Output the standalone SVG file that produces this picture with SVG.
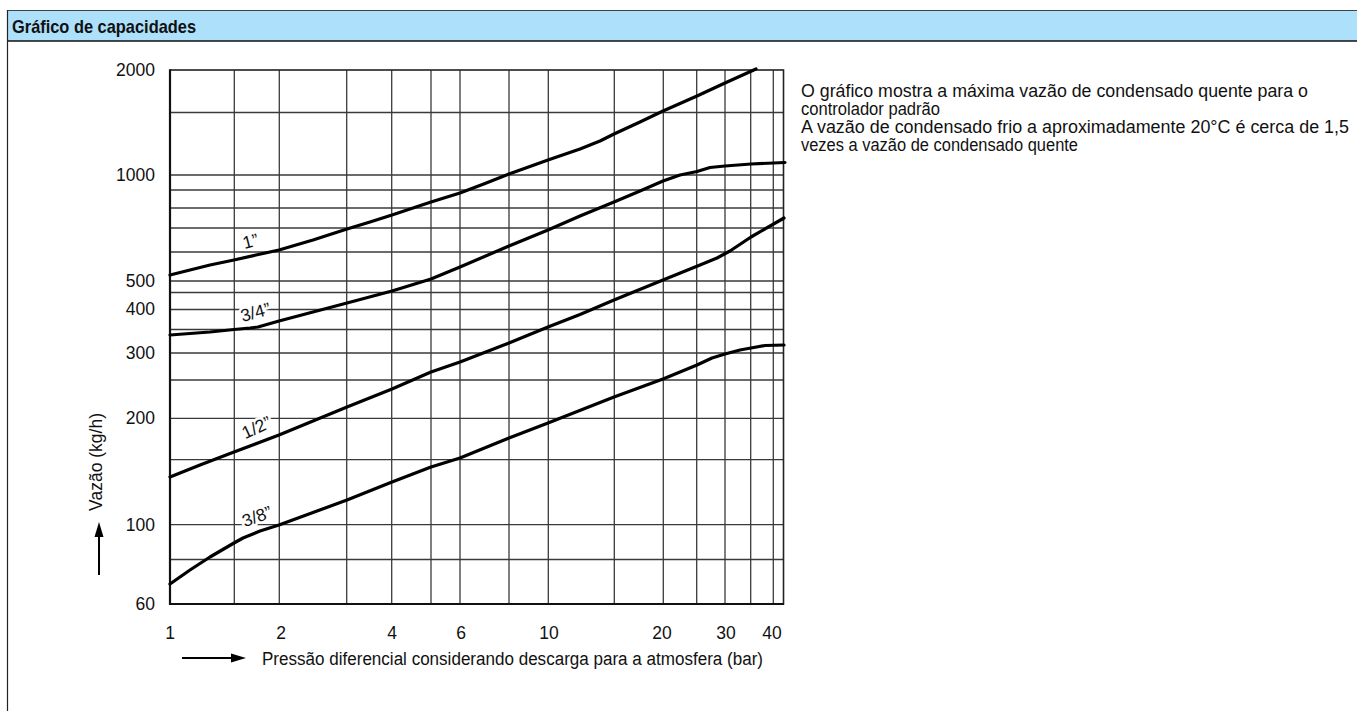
<svg xmlns="http://www.w3.org/2000/svg" width="1357" height="711" viewBox="0 0 1357 711">
<style>
  text { font-family: "Liberation Sans", Arial, sans-serif; fill: #111; }
  .tick { font-size: 17.5px; }
  .grid line { stroke: #3a3a3a; stroke-width: 1.3; }
  .curve { fill: none; stroke: #000; stroke-width: 3.2; stroke-linejoin: round; stroke-linecap: round; }
  .size { font-size: 17.5px; paint-order: stroke; stroke: #fff; stroke-width: 5px; stroke-linejoin: round; }
  .note { font-size: 17.5px; }
</style>
<rect x="0" y="0" width="1357" height="711" fill="#fff"/>
<g id="frame">
  <rect x="7" y="10.5" width="1352" height="30.5" fill="#ade0fb"/>
  <line x1="7" y1="10.5" x2="1357" y2="10.5" stroke="#444" stroke-width="1.2"/>
  <line x1="7" y1="41" x2="1357" y2="41" stroke="#111" stroke-width="1.3"/>
  <line x1="7.5" y1="10" x2="7.5" y2="711" stroke="#222" stroke-width="1.2"/>
  <text x="12" y="33" font-size="18.5" font-weight="bold" textLength="184" lengthAdjust="spacingAndGlyphs">Gráfico de capacidades</text>
</g>
<g id="grid" class="grid">
  <line x1="234.3" y1="70" x2="234.3" y2="604"/>
  <line x1="279.3" y1="70" x2="279.3" y2="604"/>
  <line x1="346.7" y1="70" x2="346.7" y2="604"/>
  <line x1="391.7" y1="70" x2="391.7" y2="604"/>
  <line x1="431" y1="70" x2="431" y2="604"/>
  <line x1="460" y1="70" x2="460" y2="604"/>
  <line x1="509" y1="70" x2="509" y2="604"/>
  <line x1="548.3" y1="70" x2="548.3" y2="604"/>
  <line x1="614.3" y1="70" x2="614.3" y2="604"/>
  <line x1="663.3" y1="70" x2="663.3" y2="604"/>
  <line x1="696.7" y1="70" x2="696.7" y2="604"/>
  <line x1="725" y1="70" x2="725" y2="604"/>
  <line x1="750.7" y1="70" x2="750.7" y2="604"/>
  <line x1="773.3" y1="70" x2="773.3" y2="604"/>
  <line x1="170" y1="112.5" x2="783.5" y2="112.5"/>
  <line x1="170" y1="175" x2="783.5" y2="175"/>
  <line x1="170" y1="190" x2="783.5" y2="190"/>
  <line x1="170" y1="208" x2="783.5" y2="208"/>
  <line x1="170" y1="228" x2="783.5" y2="228"/>
  <line x1="170" y1="252" x2="783.5" y2="252"/>
  <line x1="170" y1="281" x2="783.5" y2="281"/>
  <line x1="170" y1="292.5" x2="783.5" y2="292.5"/>
  <line x1="170" y1="309.5" x2="783.5" y2="309.5"/>
  <line x1="170" y1="329.5" x2="783.5" y2="329.5"/>
  <line x1="170" y1="353" x2="783.5" y2="353"/>
  <line x1="170" y1="380" x2="783.5" y2="380"/>
  <line x1="170" y1="418.3" x2="783.5" y2="418.3"/>
  <line x1="170" y1="459.7" x2="783.5" y2="459.7"/>
  <line x1="170" y1="524.7" x2="783.5" y2="524.7"/>
  <line x1="170" y1="559.5" x2="783.5" y2="559.5"/>
  <rect x="170" y="70" width="613.5" height="534" fill="none" stroke="#222" stroke-width="1.6"/>
  <line x1="170" y1="69.5" x2="170" y2="605" style="stroke:#111;stroke-width:2.2"/>
  <line x1="169" y1="604" x2="784" y2="604" style="stroke:#111;stroke-width:2.2"/>
</g>
<g id="curves">
  <polyline id="curve-1in" class="curve" points="170,275 190,270 210,265 234,260 256,255 279,250 313,240 347,229 370,222 392,215 431,202 460,193 485,183.5 509,174 548,160 580,149 600,141 614,134 640,122 663,111 697,96 725,83 756,69"/>
  <polyline id="curve-3-4in" class="curve" points="170,335 190,333.5 210,332 234,329.5 250,328 258,327 279,321 313,312 347,303 392,291 431,279 460,267 509,246 548,230 580,216 614,202 640,191 663,181 680,175 697,171.5 710,167.5 725,166 751,164 785,162.5"/>
  <polyline id="curve-1-2in" class="curve" points="170,477 200,465 234,452 279,435 347,407 392,389 431,372 460,362 509,343 548,327 580,314.5 614,300 663,280 700,265 717,258 730,251 751,237 784,218"/>
  <polyline id="curve-3-8in" class="curve" points="170,584 190,570 210,557 234,543 243,538 260,531 279,525 347,500 392,482 431,467 460,458 509,438 548,423 614,397 663,379 697,365 712,358 725,354 740,350 751,348 765,345.5 784,345"/>
</g>
<g id="curve-labels">
  <text class="size" text-anchor="middle" transform="translate(252,247) rotate(-15)">1”</text>
  <text class="size" text-anchor="middle" transform="translate(257,318) rotate(-15)">3/4”</text>
  <text class="size" text-anchor="middle" transform="translate(259,433) rotate(-25)">1/2”</text>
  <text class="size" text-anchor="middle" transform="translate(259,522) rotate(-20)">3/8”</text>
</g>
<g id="y-axis">
  <g class="tick" text-anchor="end">
    <text x="155" y="76">2000</text>
    <text x="155" y="181">1000</text>
    <text x="155" y="287">500</text>
    <text x="155" y="315">400</text>
    <text x="155" y="359">300</text>
    <text x="155" y="424">200</text>
    <text x="155" y="531">100</text>
    <text x="155" y="610">60</text>
  </g>
  <text font-size="17.5" text-anchor="middle" transform="translate(102,462) rotate(-90)">Vazão (kg/h)</text>
  <line x1="99" y1="575" x2="99" y2="534" stroke="#000" stroke-width="2"/>
  <polygon points="99,522 94.5,537 103.5,537" fill="#000"/>
</g>
<g id="x-axis">
  <g class="tick" text-anchor="middle">
    <text x="170" y="639">1</text>
    <text x="281" y="639">2</text>
    <text x="392" y="639">4</text>
    <text x="461" y="639">6</text>
    <text x="549" y="639">10</text>
    <text x="662" y="639">20</text>
    <text x="726" y="639">30</text>
    <text x="772" y="639">40</text>
  </g>
  <line x1="182" y1="658" x2="234" y2="658" stroke="#000" stroke-width="2"/>
  <polygon points="246,658 231,653.5 231,662.5" fill="#000"/>
  <text x="262" y="665" font-size="18" textLength="501" lengthAdjust="spacingAndGlyphs">Pressão diferencial considerando descarga para a atmosfera (bar)</text>
</g>
<g id="note">
  <text class="note" x="801" y="97" textLength="507" lengthAdjust="spacingAndGlyphs">O gráfico mostra a máxima vazão de condensado quente para o</text>
  <text class="note" x="801" y="115" textLength="139" lengthAdjust="spacingAndGlyphs">controlador padrão</text>
  <text class="note" x="801" y="133" textLength="548" lengthAdjust="spacingAndGlyphs">A vazão de condensado frio a aproximadamente 20°C é cerca de 1,5</text>
  <text class="note" x="801" y="151" textLength="277" lengthAdjust="spacingAndGlyphs">vezes a vazão de condensado quente</text>
</g>
</svg>
